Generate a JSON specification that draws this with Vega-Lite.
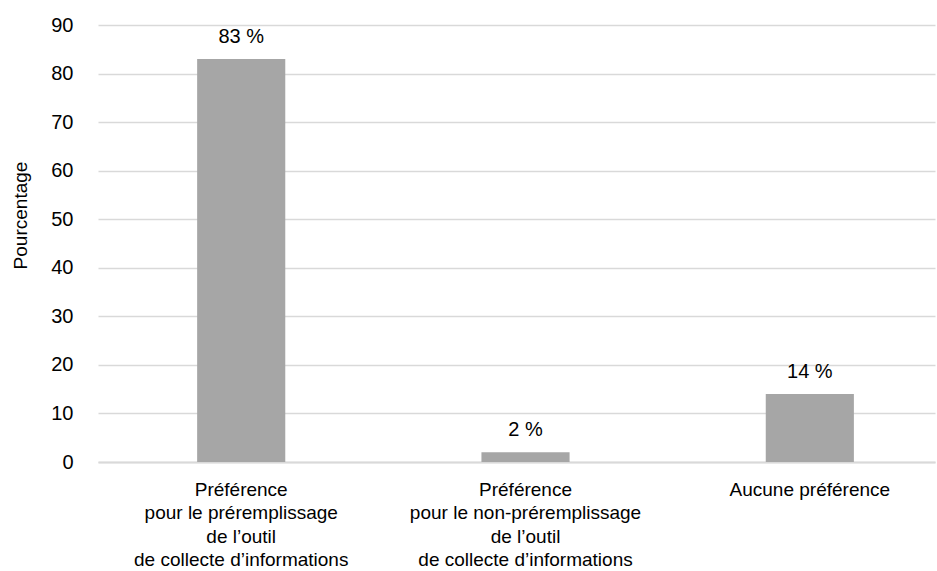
{
  "$schema": "https://vega.github.io/schema/vega-lite/v6.json",
  "autosize": {"type": "none"},
  "width": 837,
  "height": 437,
  "padding": {"left": 98, "top": 25, "right": 2, "bottom": 109},
  "background": "white",
  "config": {
    "font": "Liberation Sans",
    "view": {"stroke": null},
    "axis": {"labelFont": "Liberation Sans", "titleFont": "Liberation Sans", "labelColor": "#000000", "titleColor": "#000000"}
  },
  "data": {
    "values": [
      {"categorie": "Préférence|pour le préremplissage|de l’outil|de collecte d’informations", "ordre": 1, "pourcentage": 83, "etiquette": "83 %"},
      {"categorie": "Préférence|pour le non-préremplissage|de l’outil|de collecte d’informations", "ordre": 2, "pourcentage": 2, "etiquette": "2 %"},
      {"categorie": "Aucune préférence", "ordre": 3, "pourcentage": 14, "etiquette": "14 %"}
    ]
  },
  "encoding": {
    "x": {
      "field": "categorie",
      "type": "nominal",
      "sort": {"field": "ordre"},
      "scale": {"paddingInner": 0.69, "paddingOuter": 0.317, "align": 0.55},
      "axis": {
        "title": null,
        "labelAngle": 0,
        "labelExpr": "split(datum.label, '|')",
        "labelFontSize": 19,
        "labelLineHeight": 23.5,
        "labelPadding": 18,
        "labelBaseline": "top",
        "labelLimit": 0,
        "ticks": false,
        "domain": true,
        "domainColor": "#d9d9d9",
        "domainWidth": 2,
        "grid": false
      }
    },
    "y": {
      "field": "pourcentage",
      "type": "quantitative",
      "scale": {"domain": [0, 90], "nice": false},
      "axis": {
        "title": "Pourcentage",
        "titleFontSize": 19,
        "titleFontWeight": "normal",
        "titleX": -78,
        "titleY": 190,
        "titleAngle": -90,
        "titleBaseline": "middle",
        "values": [0, 10, 20, 30, 40, 50, 60, 70, 80, 90],
        "labelFontSize": 20,
        "labelPadding": 25,
        "ticks": false,
        "domain": false,
        "grid": true,
        "gridColor": "#d9d9d9",
        "gridWidth": 1.3
      }
    }
  },
  "layer": [
    {"mark": {"type": "bar", "color": "#a6a6a6"}},
    {
      "mark": {"type": "text", "baseline": "alphabetic", "dy": -16, "fontSize": 20, "color": "#000000"},
      "encoding": {"text": {"field": "etiquette"}}
    }
  ]
}
